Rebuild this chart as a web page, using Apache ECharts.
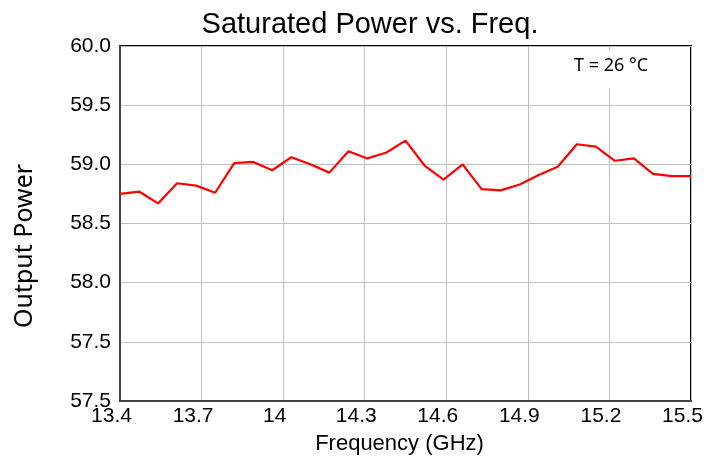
<!DOCTYPE html>
<html>
<head>
<meta charset="utf-8">
<script src="https://cdn.jsdelivr.net/npm/echarts@6/dist/echarts.min.js"></script>
<style>
html,body{margin:0;padding:0;background:#fff;}
#chart{width:704px;height:458px;}
</style>
</head>
<body>
<div id="chart"></div>
<script>
const freqGHz = [13.40,13.47,13.54,13.61,13.68,13.75,13.82,13.89,13.96,14.03,14.10,14.17,14.24,14.31,14.38,14.45,14.52,14.59,14.66,14.73,14.80,14.87,14.94,15.01,15.08,15.15,15.22,15.29,15.36,15.43,15.50];
const outputPower = [58.75,58.77,58.67,58.84,58.82,58.76,59.01,59.02,58.95,59.06,59.00,58.93,59.11,59.05,59.10,59.20,58.99,58.87,59.00,58.79,58.78,58.83,58.91,58.98,59.17,59.15,59.03,59.05,58.92,58.90,58.90];
const xTickLabels = ['13.4','13.7','14','14.3','14.6','14.9','15.2','15.5'];
const yTickLabels = ['57.5','57.5','58.0','58.5','59.0','59.5','60.0'];
const xStart = 13.4, xStep = 0.3, yStart = 57, yStep = 0.5;

const seriesData = freqGHz.map((f, i) => [+(f - xStart).toFixed(4), +(outputPower[i] - yStart).toFixed(4)]);

const chart = echarts.init(document.getElementById('chart'), null, {renderer: 'canvas'});
chart.setOption({
  animation: false,
  backgroundColor: '#fff',
  title: {
    text: 'Saturated Power vs. Freq.',
    left: 365, top: 5, textAlign: 'center',
    textStyle: {fontFamily: 'Liberation Sans, Arial', fontSize: 29, fontWeight: 'normal', color: '#000'}
  },
  grid: {left: 120, right: 13, top: 46, bottom: 57, show: true, borderColor: '#000', borderWidth: 2, backgroundColor: 'transparent', outerBoundsMode: 'none', containLabel: false},
  xAxis: {
    type: 'value', min: 0, max: 2.1, interval: xStep,
    name: 'Frequency (GHz)', nameLocation: 'middle', nameGap: 32,
    nameTextStyle: {fontFamily: 'Liberation Sans, Arial', fontSize: 22, color: '#000', padding: [0, 12, 0, 0]},
    axisLine: {show: true, lineStyle: {color: '#444', width: 2}},
    axisTick: {show: false},
    splitLine: {show: true, lineStyle: {color: '#bfbfbf', width: 1}},
    axisLabel: {
      fontFamily: 'Liberation Sans, Arial', fontSize: 21, color: '#000', margin: 5,
      padding: [0, 17, 0, 0],
      formatter: v => xTickLabels[Math.round(v / xStep)] || ''
    }
  },
  yAxis: {
    type: 'value', min: 0, max: 3, interval: yStep,
    axisLine: {show: true, lineStyle: {color: '#444', width: 2}},
    axisTick: {show: false},
    splitLine: {show: true, lineStyle: {color: '#bfbfbf', width: 1}},
    axisLabel: {
      fontFamily: 'Liberation Sans, Arial', fontSize: 21, color: '#000', margin: 9,
      formatter: v => yTickLabels[Math.round(v / yStep)] || ''
    }
  },
  graphic: [
    {type: 'text', x: 25, y: 246, rotation: Math.PI / 2,
     style: {text: 'Output Power', fontFamily: 'Noto Sans', fontSize: 25, fill: '#000', align: 'center', verticalAlign: 'middle'}},
    {type: 'rect', left: 562, top: 50, shape: {width: 98, height: 38}, style: {fill: '#fff'}, z: 5},
    {type: 'text', left: 574, top: 57, style: {text: 'T = 26 °C', fontFamily: 'Noto Sans', fontSize: 18, fill: '#000'}, z: 6}
  ],
  series: [{
    type: 'line',
    data: seriesData,
    showSymbol: false,
    lineStyle: {color: '#ff0000', width: 2.2},
    itemStyle: {color: '#ff0000'}
  }]
});
</script>
</body>
</html>
